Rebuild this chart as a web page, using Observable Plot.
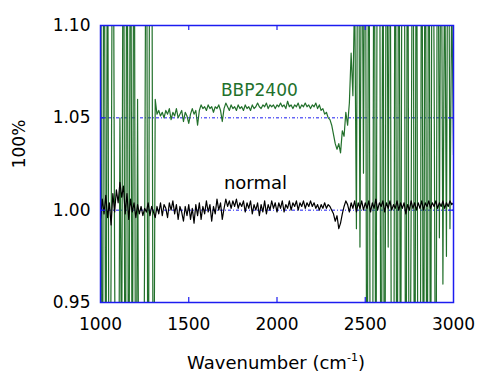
<!DOCTYPE html>
<html><head><meta charset="utf-8">
<script src="https://cdn.jsdelivr.net/npm/d3@7"></script>
<script src="https://cdn.jsdelivr.net/npm/@observablehq/plot@0.6"></script>
<style>body{margin:0;background:#fff}</style>
</head><body><div id="chart"></div>
<script>
// Wavenumber grid: 1000..3000 cm-1 every 10
const wavenumberStart = 1000;
const wavenumberStep = 10;

const bbp2400 = [
  1.25,0.80,1.25,0.85,1.20,0.80,0.97,1.25,0.97,0.80,
  0.80,1.05,0.90,1.25,0.80,1.25,0.80,1.25,0.85,1.25,
  0.80,1.06,0.80,0.80,0.80,0.98,1.25,0.80,1.25,1.20,
  0.82,1.060,1.052,1.054,1.051,1.053,1.050,1.054,1.052,1.055,
  1.049,1.053,1.051,1.055,1.050,1.052,1.054,1.048,1.053,1.051,
  1.047,1.052,1.055,1.052,1.054,1.046,1.054,1.057,1.055,1.056,
  1.054,1.057,1.055,1.056,1.053,1.056,1.055,1.057,1.054,1.048,
  1.055,1.058,1.056,1.054,1.057,1.055,1.056,1.054,1.057,1.055,
  1.056,1.054,1.057,1.055,1.056,1.054,1.057,1.055,1.056,1.058,
  1.056,1.055,1.057,1.056,1.058,1.055,1.057,1.056,1.057,1.055,
  1.057,1.056,1.058,1.056,1.057,1.055,1.059,1.056,1.057,1.055,
  1.057,1.056,1.058,1.055,1.057,1.056,1.058,1.056,1.057,1.055,
  1.057,1.056,1.058,1.055,1.057,1.054,1.055,1.052,1.053,1.050,
  1.049,1.046,1.041,1.036,1.033,1.036,1.031,1.043,1.040,1.053,
  1.046,1.058,1.085,1.062,1.12,0.99,1.25,0.98,1.20,1.02,
  1.25,0.80,1.25,0.80,0.80,1.25,0.85,1.25,1.25,0.80,
  1.20,0.80,1.25,0.98,1.25,0.80,0.80,1.25,0.80,1.25,
  0.85,1.25,1.25,0.80,1.25,0.80,1.00,1.25,0.80,1.25,
  0.80,0.80,1.25,0.82,1.25,0.80,1.25,0.85,1.25,1.08,
  0.82,1.25,0.985,1.20,0.96,1.15,0.975,1.25,0.99,1.12,
  1.03
];

const normal = [
  0.995,1.006,0.998,1.008,0.996,1.004,0.992,1.009,0.999,1.011,
  1.004,1.015,1.007,1.013,0.998,1.009,0.995,1.006,0.999,1.004,
  0.996,1.003,0.998,1.002,0.997,1.001,0.999,1.004,0.997,1.002,
  0.999,0.996,1.002,0.998,1.004,0.997,1.003,1.001,0.996,1.004,
  1.000,1.005,0.998,1.003,0.995,1.002,0.999,0.994,1.002,0.997,
  1.003,0.995,1.001,0.993,1.003,0.997,1.004,0.995,1.002,0.998,
  1.005,0.999,1.003,0.994,1.002,0.998,1.006,1.000,1.004,0.995,
  1.001,1.006,1.002,1.005,1.001,1.005,1.002,1.006,1.001,1.004,
  1.002,1.005,0.999,1.004,1.001,1.005,0.998,1.003,1.000,1.004,
  0.997,1.003,0.999,1.005,0.998,1.003,1.000,1.005,1.001,1.004,
  0.999,1.004,1.001,1.005,0.999,1.003,1.001,1.005,1.000,1.004,
  1.002,1.005,1.000,1.004,1.002,1.005,1.001,1.004,1.002,1.005,
  1.002,1.004,1.001,1.003,1.000,1.003,1.001,1.004,1.001,1.003,
  1.002,1.000,0.998,0.994,0.997,0.990,0.993,0.998,1.002,1.005,
  1.003,0.999,1.004,1.001,1.005,0.999,1.004,1.001,1.005,1.000,
  1.004,1.001,1.005,0.999,1.004,1.001,1.006,1.000,1.004,1.002,
  1.005,0.999,1.004,1.001,1.005,1.000,1.003,1.001,1.005,1.000,
  1.004,1.001,1.004,0.998,1.003,1.000,1.005,1.001,1.004,1.000,
  1.004,1.001,1.005,1.000,1.004,1.002,1.005,1.001,1.004,1.002,
  1.005,1.001,1.004,1.002,1.005,1.001,1.004,1.002,1.005,1.003,
  1.004
];

const xTicks = [1000, 1500, 2000, 2500, 3000];
const yTicks = [0.95, 1.00, 1.05, 1.10];
const innerXTicks = [1500, 2000, 2500];
const gridValues = [1.00, 1.05];
const xDomain = [1000, 3000];
const yDomain = [0.95, 1.10];
const labelBBP = [{name: "BBP2400", x: 1900, y: 1.062}];
const labelNormal = [{name: "normal", x: 1878, y: 1.0117}];

const toRows = (arr) => arr.map((v, i) => ({x: wavenumberStart + i * wavenumberStep, y: v}));
const greenRows = toRows(bbp2400);
const normalRows = toRows(normal);

const W = 481, H = 376, mL = 100, mR = 28, mT = 25, mB = 74;
const iw = W - mL - mR, ih = H - mT - mB;
const blue = "#1c1cf0";
const green = "#22702b";

const plot = Plot.plot({
  width: W, height: H,
  marginLeft: mL, marginRight: mR, marginTop: mT, marginBottom: mB,
  style: {fontFamily: "DejaVu Sans, sans-serif", fontSize: "17px", background: "white", color: "black", overflow: "visible"},
  x: {domain: xDomain},
  y: {domain: yDomain},
  marks: [
    Plot.ruleY(gridValues, {stroke: blue, strokeWidth: 1, strokeDasharray: "3,2,1,2"}),
    Plot.line(greenRows, {x: "x", y: "y", stroke: green, strokeWidth: 1.2, clip: true}),
    Plot.line(normalRows, {x: "x", y: "y", stroke: "black", strokeWidth: 1.2, clip: true}),
    Plot.tickX(innerXTicks, {x: d => d, stroke: blue, strokeWidth: 1.2, insetTop: ih - 5}),
    Plot.tickX(innerXTicks, {x: d => d, stroke: blue, strokeWidth: 1.2, insetBottom: ih - 5}),
    Plot.tickY(gridValues, {y: d => d, stroke: blue, strokeWidth: 1.2, insetRight: iw - 5}),
    Plot.tickY(gridValues, {y: d => d, stroke: blue, strokeWidth: 1.2, insetLeft: iw - 5}),
    Plot.frame({stroke: blue, strokeWidth: 1.5}),
    Plot.axisX(xTicks, {tickSize: 0, tickPadding: 15, tickFormat: d => String(d), label: null, fontSize: 17}),
    Plot.axisY(yTicks, {tickSize: 0, tickPadding: 10, tickFormat: d3.format(".2f"), label: null, fontSize: 17}),
    Plot.text(labelBBP, {x: "x", y: "y", text: "name", fill: green, fontSize: 17, textAnchor: "middle", lineAnchor: "bottom"}),
    Plot.text(labelNormal, {x: "x", y: "y", text: "name", fill: "black", fontSize: 18, textAnchor: "middle", lineAnchor: "bottom"})
  ]
});

const svg = d3.select(plot);
svg.append("text")
  .attr("transform", "translate(25,144) rotate(-90)")
  .attr("text-anchor", "middle")
  .attr("font-size", 17)
  .attr("fill", "black")
  .text("100%");
const xl = svg.append("text")
  .attr("x", 276).attr("y", 369)
  .attr("text-anchor", "middle")
  .attr("font-size", 18)
  .attr("fill", "black");
xl.append("tspan").text("Wavenumber (cm");
xl.append("tspan").attr("font-size", 11).attr("dy", -8).text("-1");
xl.append("tspan").attr("dy", 8).text(")");

document.getElementById("chart").appendChild(plot);
</script>
</body></html>
